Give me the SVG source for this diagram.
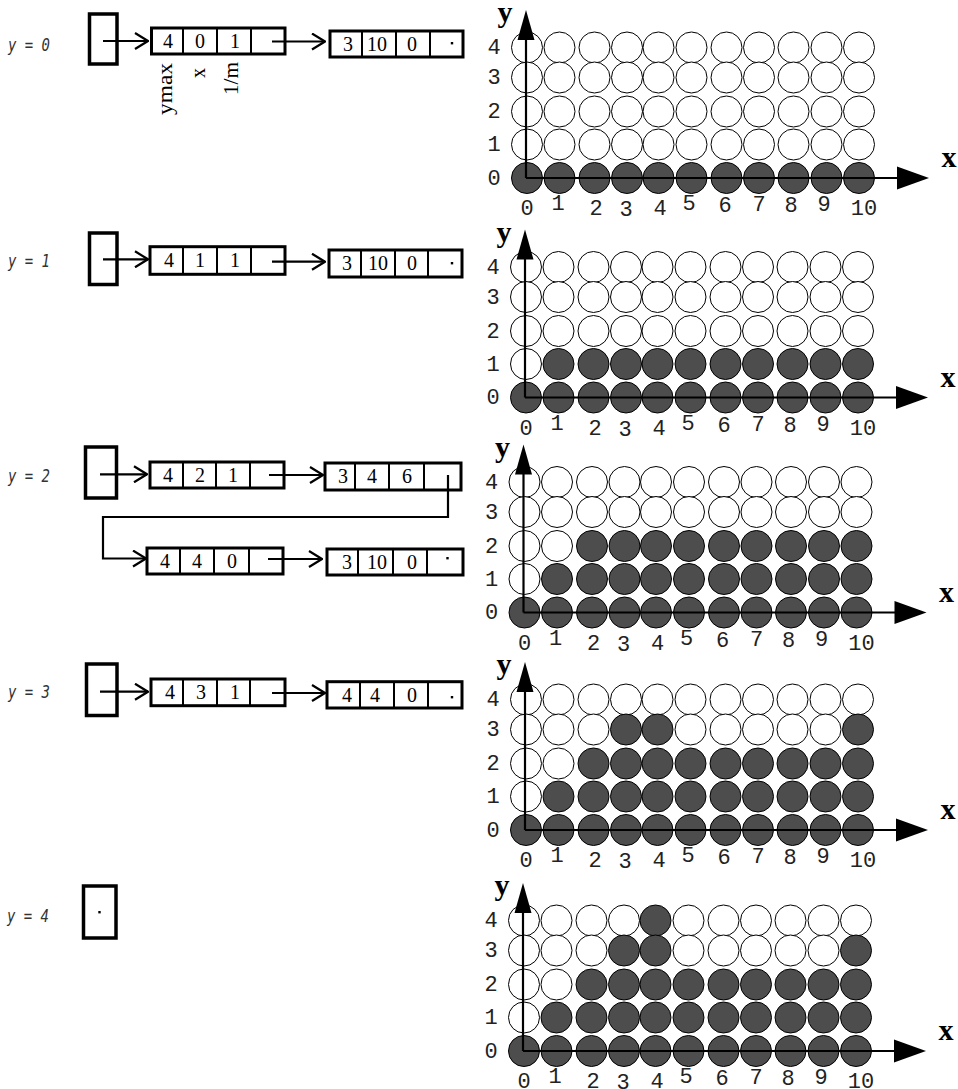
<svg xmlns="http://www.w3.org/2000/svg" width="958" height="1089" viewBox="0 0 958 1089">
<style>
.e{fill:#fff;stroke:#000;stroke-width:1}
.f{fill:#4d4d4d;stroke:#000;stroke-width:1}
.ax{stroke:#000;stroke-width:2.2;fill:none}
.ah{fill:#000}
.dg{font-family:"Liberation Mono",monospace;font-size:22px;text-anchor:middle;fill:#222}
.axn{font-family:"Liberation Serif",serif;font-weight:bold;font-size:30px;text-anchor:middle}
.bucket{fill:none;stroke:#000;stroke-width:3.5}
.node{fill:#fff;stroke:#000;stroke-width:3}
.dv{stroke:#000;stroke-width:2}
.num{font-family:"Liberation Serif",serif;font-size:20px;text-anchor:middle}
.lbl{font-family:"DejaVu Sans Mono",monospace;font-style:italic;font-size:17px;fill:#333}
.fld{font-family:"Liberation Serif",serif;font-size:20px}
.conn{fill:none;stroke:#000;stroke-width:2.2;marker-end:url(#arr)}
.dot{fill:#000}
</style>
<defs>
<marker id="arr" markerUnits="userSpaceOnUse" viewBox="0 0 15 18" refX="14" refY="9" markerWidth="15" markerHeight="18" orient="auto">
<path d="M1,1 L14,9 L1,17" fill="none" stroke="#000" stroke-width="2.2"/>
</marker>
<g id="axes">
<line class="ax" x1="0" y1="0" x2="0" y2="-150"/>
<polygon class="ah" points="0,-168 -8.5,-138 8.5,-138"/>
<line class="ax" x1="0" y1="0" x2="380" y2="0"/>
<polygon class="ah" points="403,0 371,-11.5 371,11.5"/>
<text class="axn" x="-21" y="-156">y</text>
<text class="axn" x="423" y="-11">x</text>
<text class="dg" x="-32" y="-124">4</text>
<text class="dg" x="-32" y="-94">3</text>
<text class="dg" x="-32" y="-60">2</text>
<text class="dg" x="-32" y="-27">1</text>
<text class="dg" x="-32" y="6.5">0</text>
<text class="dg" x="1" y="37">0</text>
<text class="dg" x="32" y="32">1</text>
<text class="dg" x="70" y="37">2</text>
<text class="dg" x="100" y="38">3</text>
<text class="dg" x="134" y="37">4</text>
<text class="dg" x="163" y="32">5</text>
<text class="dg" x="199" y="34">6</text>
<text class="dg" x="233" y="33">7</text>
<text class="dg" x="265" y="34">8</text>
<text class="dg" x="298" y="33">9</text>
<text class="dg" x="338" y="37">10</text>
</g>
</defs>

<!-- row labels -->
<text class="lbl" x="8" y="51" textLength="42" lengthAdjust="spacingAndGlyphs">y = 0</text>
<text class="lbl" x="8" y="267" textLength="42" lengthAdjust="spacingAndGlyphs">y = 1</text>
<text class="lbl" x="8" y="482" textLength="42" lengthAdjust="spacingAndGlyphs">y = 2</text>
<text class="lbl" x="8" y="698" textLength="42" lengthAdjust="spacingAndGlyphs">y = 3</text>
<text class="lbl" x="7" y="922" textLength="42" lengthAdjust="spacingAndGlyphs">y = 4</text>

<!-- buckets -->
<g id="bucket0"><rect class="bucket" x="89.5" y="14" width="27.5" height="50"/></g>
<g id="bucket1"><rect class="bucket" x="89.5" y="233" width="27.5" height="51.5"/></g>
<g id="bucket2"><rect class="bucket" x="85.5" y="447" width="31" height="51"/></g>
<g id="bucket3"><rect class="bucket" x="86.5" y="664" width="30.5" height="51.5"/></g>
<g id="bucket4"><rect class="bucket" x="83.5" y="886" width="32.5" height="52"/><rect class="dot" x="98.3" y="911" width="2.4" height="2.4"/></g>

<!-- nodes -->
<g id="n0a">
<rect class="node" x="151.5" y="28" width="133.5" height="26"/>
<line class="dv" x1="183" y1="28" x2="183" y2="54"/><line class="dv" x1="217" y1="28" x2="217" y2="54"/><line class="dv" x1="251" y1="28" x2="251" y2="54"/>
<text class="num" x="168" y="47.5">4</text><text class="num" x="200" y="47.5">0</text><text class="num" x="235" y="47.5">1</text>
</g>
<g id="n0b">
<rect class="node" x="330" y="31" width="133" height="26"/>
<line class="dv" x1="362" y1="31" x2="362" y2="57"/><line class="dv" x1="396" y1="31" x2="396" y2="57"/><line class="dv" x1="430" y1="31" x2="430" y2="57"/>
<text class="num" x="348" y="50.5">3</text><text class="num" x="377" y="50.5">10</text><text class="num" x="412" y="50.5">0</text>
<rect class="dot" x="450.8" y="42" width="2.4" height="2.4"/>
</g>
<g id="fields">
<text class="fld" transform="translate(172,115) rotate(-90)" textLength="52" lengthAdjust="spacingAndGlyphs">ymax</text>
<text class="fld" transform="translate(205,78) rotate(-90)">x</text>
<text class="fld" transform="translate(238,95) rotate(-90)" textLength="33" lengthAdjust="spacingAndGlyphs">1/m</text>
</g>

<g id="n1a">
<rect class="node" x="150" y="246.7" width="135" height="27.6"/>
<line class="dv" x1="183" y1="246.7" x2="183" y2="274.3"/><line class="dv" x1="217" y1="246.7" x2="217" y2="274.3"/><line class="dv" x1="251" y1="246.7" x2="251" y2="274.3"/>
<text class="num" x="169" y="267">4</text><text class="num" x="200" y="267">1</text><text class="num" x="235" y="267">1</text>
</g>
<g id="n1b">
<rect class="node" x="329" y="250" width="133" height="27"/>
<line class="dv" x1="361" y1="250" x2="361" y2="277"/><line class="dv" x1="395" y1="250" x2="395" y2="277"/><line class="dv" x1="428" y1="250" x2="428" y2="277"/>
<text class="num" x="347" y="270">3</text><text class="num" x="378" y="270">10</text><text class="num" x="412" y="270">0</text>
<rect class="dot" x="450.8" y="262" width="2.4" height="2.4"/>
</g>

<g id="n2a">
<rect class="node" x="150" y="462" width="134" height="26"/>
<line class="dv" x1="183" y1="462" x2="183" y2="488"/><line class="dv" x1="216" y1="462" x2="216" y2="488"/><line class="dv" x1="250" y1="462" x2="250" y2="488"/>
<text class="num" x="168" y="481.5">4</text><text class="num" x="200" y="481.5">2</text><text class="num" x="233" y="481.5">1</text>
</g>
<g id="n2b">
<rect class="node" x="325" y="463" width="136" height="27"/>
<line class="dv" x1="355" y1="463" x2="355" y2="490"/><line class="dv" x1="389" y1="463" x2="389" y2="490"/><line class="dv" x1="424" y1="463" x2="424" y2="490"/>
<text class="num" x="343" y="483">3</text><text class="num" x="372" y="483">4</text><text class="num" x="407" y="483">6</text>
</g>
<g id="n2c">
<rect class="node" x="147" y="548" width="136" height="26"/>
<line class="dv" x1="180" y1="548" x2="180" y2="574"/><line class="dv" x1="214" y1="548" x2="214" y2="574"/><line class="dv" x1="249" y1="548" x2="249" y2="574"/>
<text class="num" x="165" y="567.5">4</text><text class="num" x="197" y="567.5">4</text><text class="num" x="232" y="567.5">0</text>
</g>
<g id="n2d">
<rect class="node" x="327" y="549" width="136" height="26"/>
<line class="dv" x1="358" y1="549" x2="358" y2="575"/><line class="dv" x1="393" y1="549" x2="393" y2="575"/><line class="dv" x1="427" y1="549" x2="427" y2="575"/>
<text class="num" x="347" y="568.5">3</text><text class="num" x="377" y="568.5">10</text><text class="num" x="412" y="568.5">0</text>
<rect class="dot" x="446.3" y="557" width="2.4" height="2.4"/>
</g>

<g id="n3a">
<rect class="node" x="151" y="679" width="134" height="26.7"/>
<line class="dv" x1="183" y1="679" x2="183" y2="705.7"/><line class="dv" x1="217" y1="679" x2="217" y2="705.7"/><line class="dv" x1="250" y1="679" x2="250" y2="705.7"/>
<text class="num" x="170" y="699">4</text><text class="num" x="201" y="699">3</text><text class="num" x="235" y="699">1</text>
</g>
<g id="n3b">
<rect class="node" x="327" y="681.7" width="135" height="26.3"/>
<line class="dv" x1="360" y1="681.7" x2="360" y2="708"/><line class="dv" x1="394" y1="681.7" x2="394" y2="708"/><line class="dv" x1="428" y1="681.7" x2="428" y2="708"/>
<text class="num" x="347" y="701.5">4</text><text class="num" x="375" y="701.5">4</text><text class="num" x="412" y="701.5">0</text>
<rect class="dot" x="450.8" y="696" width="2.4" height="2.4"/>
</g>

<!-- connectors -->
<g id="connectors">
<path class="conn" d="M103,41 H148"/>
<path class="conn" d="M272,41.5 H325"/>
<path class="conn" d="M103,259.3 H148"/>
<path class="conn" d="M272,261.7 H325"/>
<path class="conn" d="M100,474.3 H147"/>
<path class="conn" d="M269,475 H323"/>
<path class="conn" d="M448,475 V517 H103 V558.5 H146"/>
<path class="conn" d="M268,559 H322"/>
<path class="conn" d="M100,691.7 H148"/>
<path class="conn" d="M272,693 H325"/>
</g>

<!-- panels -->
<g id="panel1" transform="translate(526,178)">
<circle class="e" cx="1" cy="-130.5" r="15.5"/><circle class="e" cx="33.5" cy="-130.5" r="15.5"/><circle class="e" cx="68.5" cy="-130.5" r="15.5"/><circle class="e" cx="101" cy="-130.5" r="15.5"/><circle class="e" cx="132.5" cy="-130.5" r="15.5"/><circle class="e" cx="165.5" cy="-130.5" r="15.5"/><circle class="e" cx="200.5" cy="-130.5" r="15.5"/><circle class="e" cx="233" cy="-130.5" r="15.5"/><circle class="e" cx="267.5" cy="-130.5" r="15.5"/><circle class="e" cx="300.5" cy="-130.5" r="15.5"/><circle class="e" cx="333" cy="-130.5" r="15.5"/>
<circle class="e" cx="1" cy="-100.5" r="15.5"/><circle class="e" cx="33.5" cy="-100.5" r="15.5"/><circle class="e" cx="68.5" cy="-100.5" r="15.5"/><circle class="e" cx="101" cy="-100.5" r="15.5"/><circle class="e" cx="132.5" cy="-100.5" r="15.5"/><circle class="e" cx="165.5" cy="-100.5" r="15.5"/><circle class="e" cx="200.5" cy="-100.5" r="15.5"/><circle class="e" cx="233" cy="-100.5" r="15.5"/><circle class="e" cx="267.5" cy="-100.5" r="15.5"/><circle class="e" cx="300.5" cy="-100.5" r="15.5"/><circle class="e" cx="333" cy="-100.5" r="15.5"/>
<circle class="e" cx="1" cy="-66.5" r="15.5"/><circle class="e" cx="33.5" cy="-66.5" r="15.5"/><circle class="e" cx="68.5" cy="-66.5" r="15.5"/><circle class="e" cx="101" cy="-66.5" r="15.5"/><circle class="e" cx="132.5" cy="-66.5" r="15.5"/><circle class="e" cx="165.5" cy="-66.5" r="15.5"/><circle class="e" cx="200.5" cy="-66.5" r="15.5"/><circle class="e" cx="233" cy="-66.5" r="15.5"/><circle class="e" cx="267.5" cy="-66.5" r="15.5"/><circle class="e" cx="300.5" cy="-66.5" r="15.5"/><circle class="e" cx="333" cy="-66.5" r="15.5"/>
<circle class="e" cx="1" cy="-33.5" r="15.5"/><circle class="e" cx="33.5" cy="-33.5" r="15.5"/><circle class="e" cx="68.5" cy="-33.5" r="15.5"/><circle class="e" cx="101" cy="-33.5" r="15.5"/><circle class="e" cx="132.5" cy="-33.5" r="15.5"/><circle class="e" cx="165.5" cy="-33.5" r="15.5"/><circle class="e" cx="200.5" cy="-33.5" r="15.5"/><circle class="e" cx="233" cy="-33.5" r="15.5"/><circle class="e" cx="267.5" cy="-33.5" r="15.5"/><circle class="e" cx="300.5" cy="-33.5" r="15.5"/><circle class="e" cx="333" cy="-33.5" r="15.5"/>
<circle class="f" cx="1" cy="0" r="15.5"/><circle class="f" cx="33.5" cy="0" r="15.5"/><circle class="f" cx="68.5" cy="0" r="15.5"/><circle class="f" cx="101" cy="0" r="15.5"/><circle class="f" cx="132.5" cy="0" r="15.5"/><circle class="f" cx="165.5" cy="0" r="15.5"/><circle class="f" cx="200.5" cy="0" r="15.5"/><circle class="f" cx="233" cy="0" r="15.5"/><circle class="f" cx="267.5" cy="0" r="15.5"/><circle class="f" cx="300.5" cy="0" r="15.5"/><circle class="f" cx="333" cy="0" r="15.5"/>
<use href="#axes"/>
</g>

<g id="panel2" transform="translate(525,397.5)">
<circle class="e" cx="1" cy="-130.5" r="15.5"/><circle class="e" cx="33.5" cy="-130.5" r="15.5"/><circle class="e" cx="68.5" cy="-130.5" r="15.5"/><circle class="e" cx="101" cy="-130.5" r="15.5"/><circle class="e" cx="132.5" cy="-130.5" r="15.5"/><circle class="e" cx="165.5" cy="-130.5" r="15.5"/><circle class="e" cx="200.5" cy="-130.5" r="15.5"/><circle class="e" cx="233" cy="-130.5" r="15.5"/><circle class="e" cx="267.5" cy="-130.5" r="15.5"/><circle class="e" cx="300.5" cy="-130.5" r="15.5"/><circle class="e" cx="333" cy="-130.5" r="15.5"/>
<circle class="e" cx="1" cy="-100.5" r="15.5"/><circle class="e" cx="33.5" cy="-100.5" r="15.5"/><circle class="e" cx="68.5" cy="-100.5" r="15.5"/><circle class="e" cx="101" cy="-100.5" r="15.5"/><circle class="e" cx="132.5" cy="-100.5" r="15.5"/><circle class="e" cx="165.5" cy="-100.5" r="15.5"/><circle class="e" cx="200.5" cy="-100.5" r="15.5"/><circle class="e" cx="233" cy="-100.5" r="15.5"/><circle class="e" cx="267.5" cy="-100.5" r="15.5"/><circle class="e" cx="300.5" cy="-100.5" r="15.5"/><circle class="e" cx="333" cy="-100.5" r="15.5"/>
<circle class="e" cx="1" cy="-66.5" r="15.5"/><circle class="e" cx="33.5" cy="-66.5" r="15.5"/><circle class="e" cx="68.5" cy="-66.5" r="15.5"/><circle class="e" cx="101" cy="-66.5" r="15.5"/><circle class="e" cx="132.5" cy="-66.5" r="15.5"/><circle class="e" cx="165.5" cy="-66.5" r="15.5"/><circle class="e" cx="200.5" cy="-66.5" r="15.5"/><circle class="e" cx="233" cy="-66.5" r="15.5"/><circle class="e" cx="267.5" cy="-66.5" r="15.5"/><circle class="e" cx="300.5" cy="-66.5" r="15.5"/><circle class="e" cx="333" cy="-66.5" r="15.5"/>
<circle class="e" cx="1" cy="-33.5" r="15.5"/><circle class="f" cx="33.5" cy="-33.5" r="15.5"/><circle class="f" cx="68.5" cy="-33.5" r="15.5"/><circle class="f" cx="101" cy="-33.5" r="15.5"/><circle class="f" cx="132.5" cy="-33.5" r="15.5"/><circle class="f" cx="165.5" cy="-33.5" r="15.5"/><circle class="f" cx="200.5" cy="-33.5" r="15.5"/><circle class="f" cx="233" cy="-33.5" r="15.5"/><circle class="f" cx="267.5" cy="-33.5" r="15.5"/><circle class="f" cx="300.5" cy="-33.5" r="15.5"/><circle class="f" cx="333" cy="-33.5" r="15.5"/>
<circle class="f" cx="1" cy="0" r="15.5"/><circle class="f" cx="33.5" cy="0" r="15.5"/><circle class="f" cx="68.5" cy="0" r="15.5"/><circle class="f" cx="101" cy="0" r="15.5"/><circle class="f" cx="132.5" cy="0" r="15.5"/><circle class="f" cx="165.5" cy="0" r="15.5"/><circle class="f" cx="200.5" cy="0" r="15.5"/><circle class="f" cx="233" cy="0" r="15.5"/><circle class="f" cx="267.5" cy="0" r="15.5"/><circle class="f" cx="300.5" cy="0" r="15.5"/><circle class="f" cx="333" cy="0" r="15.5"/>
<use href="#axes"/>
</g>

<g id="panel3" transform="translate(523.5,612.5)">
<circle class="e" cx="1" cy="-130.5" r="15.5"/><circle class="e" cx="33.5" cy="-130.5" r="15.5"/><circle class="e" cx="68.5" cy="-130.5" r="15.5"/><circle class="e" cx="101" cy="-130.5" r="15.5"/><circle class="e" cx="132.5" cy="-130.5" r="15.5"/><circle class="e" cx="165.5" cy="-130.5" r="15.5"/><circle class="e" cx="200.5" cy="-130.5" r="15.5"/><circle class="e" cx="233" cy="-130.5" r="15.5"/><circle class="e" cx="267.5" cy="-130.5" r="15.5"/><circle class="e" cx="300.5" cy="-130.5" r="15.5"/><circle class="e" cx="333" cy="-130.5" r="15.5"/>
<circle class="e" cx="1" cy="-100.5" r="15.5"/><circle class="e" cx="33.5" cy="-100.5" r="15.5"/><circle class="e" cx="68.5" cy="-100.5" r="15.5"/><circle class="e" cx="101" cy="-100.5" r="15.5"/><circle class="e" cx="132.5" cy="-100.5" r="15.5"/><circle class="e" cx="165.5" cy="-100.5" r="15.5"/><circle class="e" cx="200.5" cy="-100.5" r="15.5"/><circle class="e" cx="233" cy="-100.5" r="15.5"/><circle class="e" cx="267.5" cy="-100.5" r="15.5"/><circle class="e" cx="300.5" cy="-100.5" r="15.5"/><circle class="e" cx="333" cy="-100.5" r="15.5"/>
<circle class="e" cx="1" cy="-66.5" r="15.5"/><circle class="e" cx="33.5" cy="-66.5" r="15.5"/><circle class="f" cx="68.5" cy="-66.5" r="15.5"/><circle class="f" cx="101" cy="-66.5" r="15.5"/><circle class="f" cx="132.5" cy="-66.5" r="15.5"/><circle class="f" cx="165.5" cy="-66.5" r="15.5"/><circle class="f" cx="200.5" cy="-66.5" r="15.5"/><circle class="f" cx="233" cy="-66.5" r="15.5"/><circle class="f" cx="267.5" cy="-66.5" r="15.5"/><circle class="f" cx="300.5" cy="-66.5" r="15.5"/><circle class="f" cx="333" cy="-66.5" r="15.5"/>
<circle class="e" cx="1" cy="-33.5" r="15.5"/><circle class="f" cx="33.5" cy="-33.5" r="15.5"/><circle class="f" cx="68.5" cy="-33.5" r="15.5"/><circle class="f" cx="101" cy="-33.5" r="15.5"/><circle class="f" cx="132.5" cy="-33.5" r="15.5"/><circle class="f" cx="165.5" cy="-33.5" r="15.5"/><circle class="f" cx="200.5" cy="-33.5" r="15.5"/><circle class="f" cx="233" cy="-33.5" r="15.5"/><circle class="f" cx="267.5" cy="-33.5" r="15.5"/><circle class="f" cx="300.5" cy="-33.5" r="15.5"/><circle class="f" cx="333" cy="-33.5" r="15.5"/>
<circle class="f" cx="1" cy="0" r="15.5"/><circle class="f" cx="33.5" cy="0" r="15.5"/><circle class="f" cx="68.5" cy="0" r="15.5"/><circle class="f" cx="101" cy="0" r="15.5"/><circle class="f" cx="132.5" cy="0" r="15.5"/><circle class="f" cx="165.5" cy="0" r="15.5"/><circle class="f" cx="200.5" cy="0" r="15.5"/><circle class="f" cx="233" cy="0" r="15.5"/><circle class="f" cx="267.5" cy="0" r="15.5"/><circle class="f" cx="300.5" cy="0" r="15.5"/><circle class="f" cx="333" cy="0" r="15.5"/>
<use href="#axes"/>
</g>

<g id="panel4" transform="translate(525,830)">
<circle class="e" cx="1" cy="-130.5" r="15.5"/><circle class="e" cx="33.5" cy="-130.5" r="15.5"/><circle class="e" cx="68.5" cy="-130.5" r="15.5"/><circle class="e" cx="101" cy="-130.5" r="15.5"/><circle class="e" cx="132.5" cy="-130.5" r="15.5"/><circle class="e" cx="165.5" cy="-130.5" r="15.5"/><circle class="e" cx="200.5" cy="-130.5" r="15.5"/><circle class="e" cx="233" cy="-130.5" r="15.5"/><circle class="e" cx="267.5" cy="-130.5" r="15.5"/><circle class="e" cx="300.5" cy="-130.5" r="15.5"/><circle class="e" cx="333" cy="-130.5" r="15.5"/>
<circle class="e" cx="1" cy="-100.5" r="15.5"/><circle class="e" cx="33.5" cy="-100.5" r="15.5"/><circle class="e" cx="68.5" cy="-100.5" r="15.5"/><circle class="f" cx="101" cy="-100.5" r="15.5"/><circle class="f" cx="132.5" cy="-100.5" r="15.5"/><circle class="e" cx="165.5" cy="-100.5" r="15.5"/><circle class="e" cx="200.5" cy="-100.5" r="15.5"/><circle class="e" cx="233" cy="-100.5" r="15.5"/><circle class="e" cx="267.5" cy="-100.5" r="15.5"/><circle class="e" cx="300.5" cy="-100.5" r="15.5"/><circle class="f" cx="333" cy="-100.5" r="15.5"/>
<circle class="e" cx="1" cy="-66.5" r="15.5"/><circle class="e" cx="33.5" cy="-66.5" r="15.5"/><circle class="f" cx="68.5" cy="-66.5" r="15.5"/><circle class="f" cx="101" cy="-66.5" r="15.5"/><circle class="f" cx="132.5" cy="-66.5" r="15.5"/><circle class="f" cx="165.5" cy="-66.5" r="15.5"/><circle class="f" cx="200.5" cy="-66.5" r="15.5"/><circle class="f" cx="233" cy="-66.5" r="15.5"/><circle class="f" cx="267.5" cy="-66.5" r="15.5"/><circle class="f" cx="300.5" cy="-66.5" r="15.5"/><circle class="f" cx="333" cy="-66.5" r="15.5"/>
<circle class="e" cx="1" cy="-33.5" r="15.5"/><circle class="f" cx="33.5" cy="-33.5" r="15.5"/><circle class="f" cx="68.5" cy="-33.5" r="15.5"/><circle class="f" cx="101" cy="-33.5" r="15.5"/><circle class="f" cx="132.5" cy="-33.5" r="15.5"/><circle class="f" cx="165.5" cy="-33.5" r="15.5"/><circle class="f" cx="200.5" cy="-33.5" r="15.5"/><circle class="f" cx="233" cy="-33.5" r="15.5"/><circle class="f" cx="267.5" cy="-33.5" r="15.5"/><circle class="f" cx="300.5" cy="-33.5" r="15.5"/><circle class="f" cx="333" cy="-33.5" r="15.5"/>
<circle class="f" cx="1" cy="0" r="15.5"/><circle class="f" cx="33.5" cy="0" r="15.5"/><circle class="f" cx="68.5" cy="0" r="15.5"/><circle class="f" cx="101" cy="0" r="15.5"/><circle class="f" cx="132.5" cy="0" r="15.5"/><circle class="f" cx="165.5" cy="0" r="15.5"/><circle class="f" cx="200.5" cy="0" r="15.5"/><circle class="f" cx="233" cy="0" r="15.5"/><circle class="f" cx="267.5" cy="0" r="15.5"/><circle class="f" cx="300.5" cy="0" r="15.5"/><circle class="f" cx="333" cy="0" r="15.5"/>
<use href="#axes"/>
</g>

<g id="panel5" transform="translate(523,1051)">
<circle class="e" cx="1" cy="-130.5" r="15.5"/><circle class="e" cx="33.5" cy="-130.5" r="15.5"/><circle class="e" cx="68.5" cy="-130.5" r="15.5"/><circle class="e" cx="101" cy="-130.5" r="15.5"/><circle class="f" cx="132.5" cy="-130.5" r="15.5"/><circle class="e" cx="165.5" cy="-130.5" r="15.5"/><circle class="e" cx="200.5" cy="-130.5" r="15.5"/><circle class="e" cx="233" cy="-130.5" r="15.5"/><circle class="e" cx="267.5" cy="-130.5" r="15.5"/><circle class="e" cx="300.5" cy="-130.5" r="15.5"/><circle class="e" cx="333" cy="-130.5" r="15.5"/>
<circle class="e" cx="1" cy="-100.5" r="15.5"/><circle class="e" cx="33.5" cy="-100.5" r="15.5"/><circle class="e" cx="68.5" cy="-100.5" r="15.5"/><circle class="f" cx="101" cy="-100.5" r="15.5"/><circle class="f" cx="132.5" cy="-100.5" r="15.5"/><circle class="e" cx="165.5" cy="-100.5" r="15.5"/><circle class="e" cx="200.5" cy="-100.5" r="15.5"/><circle class="e" cx="233" cy="-100.5" r="15.5"/><circle class="e" cx="267.5" cy="-100.5" r="15.5"/><circle class="e" cx="300.5" cy="-100.5" r="15.5"/><circle class="f" cx="333" cy="-100.5" r="15.5"/>
<circle class="e" cx="1" cy="-66.5" r="15.5"/><circle class="e" cx="33.5" cy="-66.5" r="15.5"/><circle class="f" cx="68.5" cy="-66.5" r="15.5"/><circle class="f" cx="101" cy="-66.5" r="15.5"/><circle class="f" cx="132.5" cy="-66.5" r="15.5"/><circle class="f" cx="165.5" cy="-66.5" r="15.5"/><circle class="f" cx="200.5" cy="-66.5" r="15.5"/><circle class="f" cx="233" cy="-66.5" r="15.5"/><circle class="f" cx="267.5" cy="-66.5" r="15.5"/><circle class="f" cx="300.5" cy="-66.5" r="15.5"/><circle class="f" cx="333" cy="-66.5" r="15.5"/>
<circle class="e" cx="1" cy="-33.5" r="15.5"/><circle class="f" cx="33.5" cy="-33.5" r="15.5"/><circle class="f" cx="68.5" cy="-33.5" r="15.5"/><circle class="f" cx="101" cy="-33.5" r="15.5"/><circle class="f" cx="132.5" cy="-33.5" r="15.5"/><circle class="f" cx="165.5" cy="-33.5" r="15.5"/><circle class="f" cx="200.5" cy="-33.5" r="15.5"/><circle class="f" cx="233" cy="-33.5" r="15.5"/><circle class="f" cx="267.5" cy="-33.5" r="15.5"/><circle class="f" cx="300.5" cy="-33.5" r="15.5"/><circle class="f" cx="333" cy="-33.5" r="15.5"/>
<circle class="f" cx="1" cy="0" r="15.5"/><circle class="f" cx="33.5" cy="0" r="15.5"/><circle class="f" cx="68.5" cy="0" r="15.5"/><circle class="f" cx="101" cy="0" r="15.5"/><circle class="f" cx="132.5" cy="0" r="15.5"/><circle class="f" cx="165.5" cy="0" r="15.5"/><circle class="f" cx="200.5" cy="0" r="15.5"/><circle class="f" cx="233" cy="0" r="15.5"/><circle class="f" cx="267.5" cy="0" r="15.5"/><circle class="f" cx="300.5" cy="0" r="15.5"/><circle class="f" cx="333" cy="0" r="15.5"/>
<use href="#axes"/>
</g>
</svg>
